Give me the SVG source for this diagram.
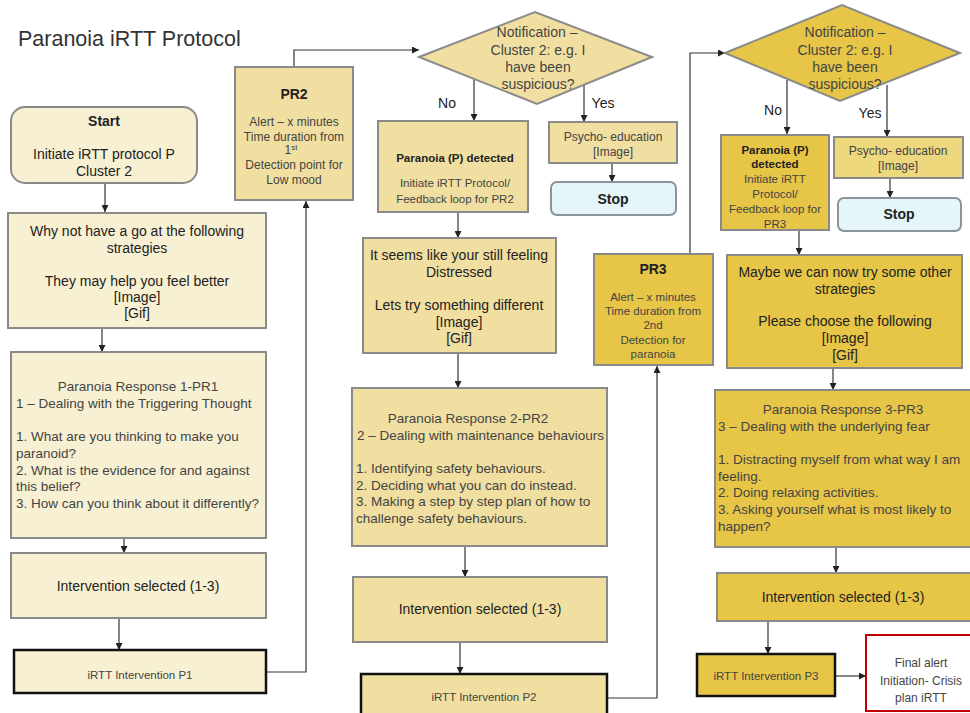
<svg xmlns="http://www.w3.org/2000/svg" width="970" height="713" viewBox="0 0 970 713">
<defs>
<marker id="ah" markerWidth="7" markerHeight="7" refX="7" refY="3.5" orient="auto" markerUnits="userSpaceOnUse"><path d="M0,0 L7,3.5 L0,7 z" fill="#222"/></marker>
<style>
text{font-family:"Liberation Sans",Arial,sans-serif;fill:#222}
.c{text-anchor:middle}
.b{font-weight:bold}
.lt{fill:#444}
.s14{font-size:14px}
.s13{font-size:13.5px}
.s12{font-size:12px}
.s11{font-size:11.5px}
.cream{fill:#F8F0D2;stroke:#8A8A8A;stroke-width:2}
.tan{fill:#F0DFA0;stroke:#8A8A8A;stroke-width:2}
.gold{fill:#E6C547;stroke:#8A8A8A;stroke-width:2}
.stop{fill:#E4F6FA;stroke:#8A9599;stroke-width:2}
.thick{stroke:#111;stroke-width:2.5}
.conn path{fill:none;stroke:#333;stroke-width:1.2}
</style>
</defs>
<rect width="970" height="713" fill="#fff"/>
<text x="18" y="46" style="font-size:21.5px;fill:#333">Paranoia iRTT Protocol</text>

<g class="conn">
<path d="M105,183 V212" marker-end="url(#ah)"/>
<path d="M102,328 V352" marker-end="url(#ah)"/>
<path d="M124,538 V553" marker-end="url(#ah)"/>
<path d="M119,618 V650" marker-end="url(#ah)"/>
<path d="M267,672 H306 V201" marker-end="url(#ah)"/>
<path d="M294,67 V50 H419" marker-end="url(#ah)"/>
<path d="M474,75 V121" marker-end="url(#ah)"/>
<path d="M584,82 V122" marker-end="url(#ah)"/>
<path d="M612,163 V182" marker-end="url(#ah)"/>
<path d="M458,212 V238" marker-end="url(#ah)"/>
<path d="M458,353 V388" marker-end="url(#ah)"/>
<path d="M465,546 V577" marker-end="url(#ah)"/>
<path d="M460,642 V674" marker-end="url(#ah)"/>
<path d="M608,698 H657 V366" marker-end="url(#ah)"/>
<path d="M690,254 V53 H725" marker-end="url(#ah)"/>
<path d="M787,80 V134" marker-end="url(#ah)"/>
<path d="M887,85 V137" marker-end="url(#ah)"/>
<path d="M890,178 V198" marker-end="url(#ah)"/>
<path d="M799,230 V255" marker-end="url(#ah)"/>
<path d="M833,368 V390" marker-end="url(#ah)"/>
<path d="M836,547 V573" marker-end="url(#ah)"/>
<path d="M768,621 V654" marker-end="url(#ah)"/>
<path d="M835,676 H866" marker-end="url(#ah)"/>
</g>

<g id="start">
<rect x="11" y="107" width="186" height="76" rx="14" class="cream"/>
<text x="104" y="126" class="c b s14">Start</text>
<text x="104" y="159" class="c s14">Initiate iRTT protocol P</text>
<text x="104" y="176" class="c s14">Cluster 2</text>
</g>

<g id="whynot">
<rect x="8" y="213" width="258" height="115" class="cream"/>
<text x="137" y="236" class="c s14">Why not have a go at the following</text>
<text x="137" y="253" class="c s14">strategies</text>
<text x="137" y="286" class="c s14">They may help you feel better</text>
<text x="137" y="302" class="c s14">[Image]</text>
<text x="137" y="318" class="c s14">[Gif]</text>
</g>

<g id="pr1">
<rect x="11" y="352" width="255" height="186" class="cream"/>
<text x="138" y="391" class="c s13 lt">Paranoia Response 1-PR1</text>
<text x="16" y="408" class="s13 lt">1 – Dealing with the Triggering Thought</text>
<text x="16" y="441" class="s13 lt">1. What are you thinking to make you</text>
<text x="16" y="458" class="s13 lt">paranoid?</text>
<text x="16" y="475" class="s13 lt">2. What is the evidence for and against</text>
<text x="16" y="491" class="s13 lt">this belief?</text>
<text x="16" y="508" class="s13 lt">3. How can you think about it differently?</text>
</g>

<g id="int1">
<rect x="11" y="553" width="255" height="65" class="cream"/>
<text x="138" y="591" class="c s14">Intervention selected (1-3)</text>
</g>

<g id="p1">
<rect x="14" y="650" width="252" height="43" class="cream thick"/>
<text x="140" y="679" class="c s11 lt">iRTT Intervention  P1</text>
</g>

<g id="pr2">
<rect x="235" y="67" width="118" height="133" class="tan"/>
<text x="294" y="99" class="c b s14">PR2</text>
<text x="294" y="126" class="c s12 lt">Alert – x minutes</text>
<text x="294" y="141" class="c s12 lt">Time duration from</text>
<text x="291" y="154" class="c s12 lt">1<tspan dy="-4" style="font-size:8px">st</tspan></text>
<text x="294" y="169" class="c s12 lt">Detection point for</text>
<text x="294" y="184" class="c s12 lt">Low mood</text>
</g>

<g id="diamond1">
<polygon points="419,57 535,12 652,57 537,104" class="tan"/>
<text x="537" y="37" class="c s14 lt">Notification –</text>
<text x="538" y="55" class="c s14 lt">Cluster 2: e.g. I</text>
<text x="538" y="72" class="c s14 lt">have been</text>
<text x="538" y="89" class="c s14 lt">suspicious?</text>
</g>
<text x="447" y="108" class="c s14">No</text>
<text x="603" y="108" class="c s14">Yes</text>

<g id="pdet1">
<rect x="378" y="121" width="150" height="91" class="tan"/>
<text x="455" y="162" class="c b s11">Paranoia (P) detected</text>
<text x="455" y="187" class="c s11 lt">Initiate iRTT  Protocol/</text>
<text x="455" y="203" class="c s11 lt">Feedback loop for PR2</text>
</g>

<g id="psycho1">
<rect x="549" y="122" width="128" height="41" class="tan"/>
<text x="613" y="141" class="c s12 lt">Psycho- education</text>
<text x="613" y="156" class="c s12 lt">[Image]</text>
</g>

<g id="stop1">
<rect x="551" y="182" width="125" height="33" rx="6" class="stop"/>
<text x="613" y="204" class="c b s14">Stop</text>
</g>

<g id="seems">
<rect x="363" y="238" width="193" height="115" class="tan"/>
<text x="459" y="260" class="c s14">It seems like your still feeling</text>
<text x="459" y="277" class="c s14">Distressed</text>
<text x="459" y="310" class="c s14">Lets try something different</text>
<text x="459" y="327" class="c s14">[Image]</text>
<text x="459" y="343" class="c s14">[Gif]</text>
</g>

<g id="pr2resp">
<rect x="352" y="388" width="255" height="158" class="tan"/>
<text x="468" y="423" class="c s13 lt">Paranoia Response 2-PR2</text>
<text x="357" y="440" class="s13 lt">2 – Dealing with maintenance behaviours</text>
<text x="356" y="473" class="s13 lt">1. Identifying safety behaviours.</text>
<text x="356" y="490" class="s13 lt">2. Deciding what you can do instead.</text>
<text x="356" y="506" class="s13 lt">3. Making a step by step plan of how to</text>
<text x="356" y="523" class="s13 lt">challenge safety behaviours.</text>
</g>

<g id="int2">
<rect x="353" y="577" width="254" height="65" class="tan"/>
<text x="480" y="614" class="c s14">Intervention selected (1-3)</text>
</g>

<g id="p2">
<rect x="361" y="674" width="246" height="45" class="tan thick"/>
<text x="484" y="701" class="c s11 lt">iRTT Intervention  P2</text>
</g>

<g id="pr3">
<rect x="594" y="254" width="119" height="111" class="gold"/>
<text x="653" y="274" class="c b s14">PR3</text>
<text x="653" y="301" class="c s11 lt">Alert – x minutes</text>
<text x="653" y="315" class="c s11 lt">Time duration from</text>
<text x="653" y="329" class="c s11 lt">2nd</text>
<text x="653" y="344" class="c s11 lt">Detection for</text>
<text x="653" y="358" class="c s11 lt">paranoia</text>
</g>

<g id="diamond2">
<polygon points="725,53 842,5 960,53 840,101" class="gold"/>
<text x="845" y="37" class="c s14 lt">Notification –</text>
<text x="845" y="55" class="c s14 lt">Cluster 2: e.g. I</text>
<text x="845" y="72" class="c s14 lt">have been</text>
<text x="845" y="89" class="c s14 lt">suspicious?</text>
</g>
<text x="773" y="115" class="c s14">No</text>
<text x="870" y="118" class="c s14">Yes</text>

<g id="pdet2">
<rect x="721" y="135" width="108" height="95" class="gold"/>
<text x="775" y="154" class="c b s11">Paranoia (P)</text>
<text x="775" y="168" class="c b s11">detected</text>
<text x="775" y="183" class="c s11 lt">Initiate iRTT</text>
<text x="775" y="198" class="c s11 lt">Protocol/</text>
<text x="775" y="213" class="c s11 lt">Feedback loop for</text>
<text x="775" y="228" class="c s11 lt">PR3</text>
</g>

<g id="psycho2">
<rect x="834" y="137" width="129" height="41" fill="#EED87E" stroke="#8A8A8A" stroke-width="2"/>
<text x="898" y="155" class="c s12 lt">Psycho- education</text>
<text x="898" y="170" class="c s12 lt">[Image]</text>
</g>

<g id="stop2">
<rect x="838" y="198" width="123" height="33" rx="6" class="stop"/>
<text x="899" y="219" class="c b s14">Stop</text>
</g>

<g id="maybe">
<rect x="727" y="255" width="235" height="113" class="gold"/>
<text x="845" y="277" class="c s14">Maybe we can now try some other</text>
<text x="845" y="294" class="c s14">strategies</text>
<text x="845" y="326" class="c s14">Please choose the following</text>
<text x="845" y="343" class="c s14">[Image]</text>
<text x="845" y="360" class="c s14">[Gif]</text>
</g>

<g id="pr3resp">
<rect x="715" y="390" width="262" height="157" class="gold"/>
<text x="843" y="414" class="c s13 lt">Paranoia Response 3-PR3</text>
<text x="718" y="431" class="s13 lt">3 – Dealing with the underlying fear</text>
<text x="718" y="464" class="s13 lt">1. Distracting myself from what way I am</text>
<text x="718" y="481" class="s13 lt">feeling.</text>
<text x="718" y="497" class="s13 lt">2. Doing relaxing activities.</text>
<text x="718" y="514" class="s13 lt">3. Asking yourself what is most likely to</text>
<text x="718" y="531" class="s13 lt">happen?</text>
</g>

<g id="int3">
<rect x="717" y="573" width="260" height="48" class="gold"/>
<text x="843" y="602" class="c s14">Intervention selected (1-3)</text>
</g>

<g id="p3">
<rect x="697" y="654" width="138" height="42" class="gold thick"/>
<text x="766" y="680" class="c s11 lt">iRTT Intervention  P3</text>
</g>

<g id="final">
<rect x="866" y="635" width="110" height="76" fill="#fff" stroke="#C00000" stroke-width="2"/>
<text x="921" y="667" class="c s12 lt">Final alert</text>
<text x="921" y="685" class="c s12 lt">Initiation-  Crisis</text>
<text x="921" y="702" class="c s12 lt">plan iRTT</text>
</g>
</svg>
